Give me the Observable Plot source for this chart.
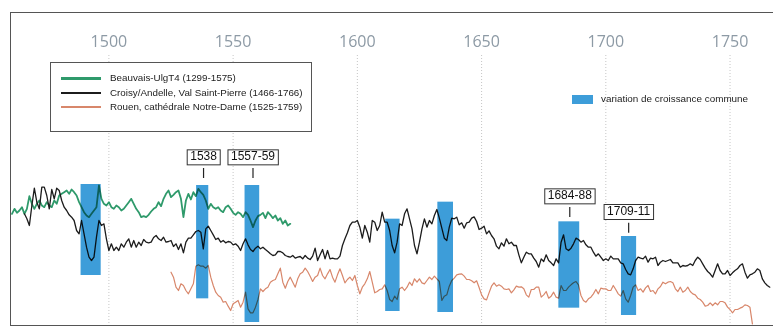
<!DOCTYPE html>
<html><head><meta charset="utf-8">
<script src="https://cdn.jsdelivr.net/npm/d3@7"></script>
<script src="https://cdn.jsdelivr.net/npm/@observablehq/plot@0.6"></script>
<style>
body{margin:0;background:#fff;}
#wrap{position:relative;width:773px;height:329px;overflow:hidden;font-family:"Liberation Sans",Arial,sans-serif;color:#222;}
#legend{position:absolute;left:50px;top:62px;width:262px;height:70px;border:1px solid #555;background:#fff;box-sizing:border-box;}
.row{position:absolute;left:0;height:12px;}
.sw{position:absolute;left:10px;width:40px;}
.lab{position:absolute;left:59px;top:0;font-size:9.8px;line-height:12px;white-space:nowrap;}
#blue{position:absolute;left:572px;top:95px;width:21px;height:9px;}
#bluelab{position:absolute;left:601px;top:93px;font-size:9.9px;line-height:12px;white-space:nowrap;}
</style></head><body>
<div id="wrap"></div>
<script>
// Decade ticks
const tickYears = [1500, 1550, 1600, 1650, 1700, 1750];

// Series (growth index, arbitrary units)
const beauvaisName = "Beauvais-UlgT4 (1299-1575)";
const beauvaisStart = 1461;
const beauvais = [335,350,338,345,355,335,350,388,365,350,
  365,375,360,355,370,360,355,375,365,390,
  395,400,405,395,408,400,390,370,355,340,
  330,325,335,345,355,420,380,365,360,370,
  355,350,360,355,345,350,360,370,380,365,
  350,340,325,328,325,332,342,350,355,370,
  358,380,395,405,385,392,400,405,380,325,
  375,395,378,400,388,410,400,392,375,350,
  365,355,350,355,345,340,355,360,350,338,
  332,340,335,325,340,332,315,295,315,328,
  332,338,322,340,332,322,330,315,322,305,
  315,300,305];

const croisyName = "Croisy/Andelle, Val Saint-Pierre (1466-1766)";
const croisyStart = 1466;
const croisy = [335,320,300,360,412,370,350,415,415,390,
  350,408,380,412,405,375,355,345,332,325,
  315,285,275,315,275,235,205,195,205,265,
  315,300,305,260,225,245,225,235,225,245,
  235,250,260,235,255,235,250,240,258,250,
  248,250,264,270,260,255,265,250,252,255,
  237,245,228,245,218,250,262,262,272,282,
  285,280,230,290,298,285,272,258,262,250,
  255,248,252,250,242,245,238,225,245,260,
  242,228,222,232,238,230,235,228,222,215,
  210,212,222,222,218,210,207,205,210,202,
  205,207,200,210,202,198,208,232,195,212,
  228,200,225,200,202,200,200,208,240,260,
  278,300,310,310,315,295,262,300,280,250,
  315,310,285,300,340,310,310,285,240,218,
  250,305,300,335,350,320,290,240,215,250,
  290,320,295,315,305,330,348,322,292,262,
  255,295,322,320,325,302,308,292,308,310,
  322,326,312,288,292,298,275,284,270,260,
  238,230,248,238,260,245,250,240,240,212,
  188,205,220,215,215,202,192,175,200,192,
  212,195,188,180,200,188,250,272,230,225,
  232,245,262,258,250,255,242,235,235,220,
  208,215,205,195,200,195,208,200,200,200,
  188,185,168,155,152,170,195,205,202,200,
  208,190,202,200,205,180,190,195,192,195,
  198,188,188,188,175,180,178,180,185,180,
  195,205,198,185,172,162,155,145,165,185,
  165,155,155,165,150,158,165,170,180,185,
  160,142,152,155,160,170,165,140,128,120,
  115];

const rouenName = "Rouen, cathédrale Notre-Dame (1525-1759)";
const rouenStart = 1525;
const rouen = [160,145,115,105,125,120,105,95,110,125,
  178,182,178,178,172,180,145,120,100,90,
  85,70,72,58,45,65,70,75,55,70,
  100,50,38,38,55,78,110,102,110,115,
  130,135,138,155,172,130,112,132,145,130,
  115,140,155,160,172,162,148,132,145,150,
  172,150,140,155,168,145,130,152,170,150,
  128,138,145,135,150,120,95,115,125,140,
  162,130,98,102,108,110,122,105,78,72,
  88,78,110,115,105,115,130,120,140,130,
  140,128,125,135,145,138,148,140,132,75,
  88,92,118,135,142,152,154,155,148,138,
  138,134,128,134,114,92,80,77,98,118,
  128,118,122,118,110,108,110,98,107,118,
  115,116,110,92,85,108,108,115,115,85,
  92,102,82,88,100,85,82,120,105,105,
  115,122,128,132,122,90,75,70,80,85,
  95,108,95,112,110,110,105,105,120,108,
  95,88,105,80,70,90,115,122,105,110,
  100,113,120,102,105,95,110,117,130,125,
  130,132,128,110,102,115,100,105,115,102,
  95,92,82,78,70,58,60,68,60,68,
  62,72,72,68,55,48,38,48,48,52,
  55,62,60,55,5];

// Common growth variations (years and extent on index scale)
const bandStart = [1488.8, 1535.3, 1554.8, 1611.4, 1632.4, 1681.1, 1706.3];
const bandEnd   = [1496.9, 1540.2, 1560.7, 1617.2, 1638.7, 1689.5, 1712.4];
const bandTop   = [423, 420, 420, 319, 370, 311, 267];
const bandBottom= [150, 80, 9, 42, 39, 52, 30];

// Annotated events
const eventLabels = ["1538", "1557-59", "1684-88", "1709-11"];
const eventYears  = [1538.1, 1558, 1685.5, 1709.2];
const eventLevel  = [507, 507, 390, 343];

const bandLabel = "variation de croissance commune";

const colors = {green: "#2f9a6b", black: "#1c1c1c", red: "#d8876b", blue: "#3d9dd9"};

const toRows = (start, vals, name) => vals.map((v, i) => ({year: start + i, value: v, series: name}));
const green = toRows(beauvaisStart, beauvais, beauvaisName);
const black = toRows(croisyStart, croisy, croisyName);
const red = toRows(rouenStart, rouen, rouenName);
const bands = bandStart.map((s, i) => ({x1: s, x2: bandEnd[i], y1: bandBottom[i], y2: bandTop[i]}));
const events = eventLabels.map((t, i) => ({label: t, year: eventYears[i], level: eventLevel[i]}));

const plot = Plot.plot({
  width: 773, height: 329,
  marginLeft: 10, marginRight: -3, marginTop: 12, marginBottom: 4,
  x: {domain: [1460.4, 1768.7], axis: null},
  y: {domain: [0, 939], axis: null},
  style: {background: "transparent", overflow: "visible"},
  marks: [
    Plot.ruleX(tickYears, {x: d => d, insetTop: 43, stroke: "#b8b8b8", strokeWidth: 0.8, strokeDasharray: "1,2"}),
    Plot.text(tickYears, {x: d => d, text: d => String(d), frameAnchor: "top", dy: 23, fontSize: 16, fill: "#8d9aa5", fontFamily: "'Open Sans', sans-serif"}),
    Plot.line(red, {x: "year", y: "value", stroke: colors.red, strokeWidth: 1.2}),
    Plot.line(green, {x: "year", y: "value", stroke: colors.green, strokeWidth: 1.8}),
    Plot.line(black, {x: "year", y: "value", stroke: colors.black, strokeWidth: 1.3}),
    Plot.rectY(bands, {x1: "x1", x2: "x2", y1: "y1", y2: "y2", fill: colors.blue, mixBlendMode: "multiply"}),
    Plot.ruleX(events, {x: "year", y1: d => d.level - 36, y2: d => d.level - 66, stroke: "#222", strokeWidth: 1.2}),
    Plot.text(events, {x: "year", y: "level", text: "label", fontSize: 12, fill: "#111", fontFamily: "'Liberation Sans', Arial, sans-serif", className: "annot"}),
    Plot.frame({anchor: "left", stroke: "#555"}),
    Plot.frame({anchor: "top", stroke: "#555"}),
    Plot.frame({anchor: "bottom", stroke: "#555"})
  ]
});

const wrap = document.getElementById("wrap");
wrap.appendChild(plot);

// Boxes around annotation labels
plot.querySelectorAll("g.annot text").forEach(t => {
  const b = t.getBBox();
  const r = document.createElementNS("http://www.w3.org/2000/svg", "rect");
  r.setAttribute("x", b.x - 3);
  r.setAttribute("y", b.y + 0.5);
  r.setAttribute("width", b.width + 6);
  r.setAttribute("height", b.height + 1);
  r.setAttribute("fill", "#fff");
  r.setAttribute("stroke", "#333");
  r.setAttribute("stroke-width", "1");
  const tr = t.getAttribute("transform");
  if (tr) r.setAttribute("transform", tr);
  t.parentNode.insertBefore(r, t);
});

// Legend
const legend = document.createElement("div");
legend.id = "legend";
const legendItems = [
  {name: beauvaisName, color: colors.green, w: 3},
  {name: croisyName, color: colors.black, w: 2},
  {name: rouenName, color: colors.red, w: 1.5}
];
legendItems.forEach((it, i) => {
  const row = document.createElement("div");
  row.className = "row";
  row.style.top = (9 + i * 14.5) + "px";
  row.style.width = "255px";
  const sw = document.createElement("div");
  sw.className = "sw";
  sw.style.top = (6 - it.w / 2) + "px";
  sw.style.height = it.w + "px";
  sw.style.background = it.color;
  const lab = document.createElement("div");
  lab.className = "lab";
  lab.textContent = it.name;
  row.appendChild(sw); row.appendChild(lab);
  legend.appendChild(row);
});
wrap.appendChild(legend);

const blue = document.createElement("div");
blue.id = "blue"; blue.style.background = colors.blue;
wrap.appendChild(blue);
const bl = document.createElement("div");
bl.id = "bluelab"; bl.textContent = bandLabel;
wrap.appendChild(bl);
</script>
</body></html>
